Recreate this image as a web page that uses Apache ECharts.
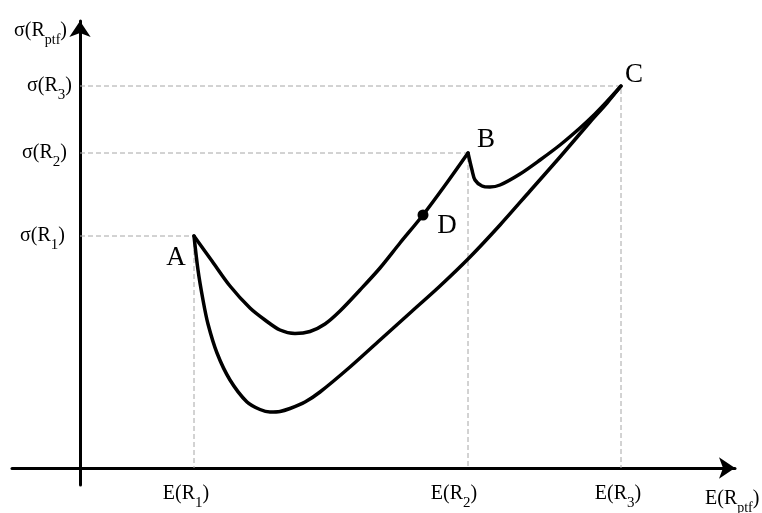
<!DOCTYPE html>
<html>
<head>
<meta charset="utf-8">
<script src="https://cdn.jsdelivr.net/npm/echarts@6.0.0/dist/echarts.min.js"></script>
<style>
  html, body { margin: 0; padding: 0; background: #fff; }
  #chart { width: 762px; height: 513px; }
</style>
</head>
<body>
<div id="chart"></div>
<script>
// Expected return E(R) on the horizontal axis, risk sigma(R) on the vertical axis.
const xTickValues = [11.4, 38.8, 54.1];
const xTickLabels = ['E(R_1)', 'E(R_2)', 'E(R_3)'];
const yTickValues = [23.2, 31.5, 38.2];
const yTickLabels = ['σ(R_1)', 'σ(R_2)', 'σ(R_3)'];
const xAxisTitle = 'E(R_ptf)';
const yAxisTitle = 'σ(R_ptf)';

// Assets A, B, C and the portfolio D
const pointNames = ['A', 'B', 'C', 'D'];
const pointX = [11.4, 38.8, 54.1, 34.3];
const pointY = [23.2, 31.5, 38.2, 25.3];

// Combinations of A and B
const curveAB = [
  [11.4, 23.2], [13.2, 20.7], [15.0, 18.2], [17.0, 16.0], [18.5, 14.8],
  [20.0, 13.8], [21.5, 13.45], [23.0, 13.65], [24.5, 14.4], [26.0, 15.7],
  [28.0, 17.8], [30.0, 20.0], [32.0, 22.5], [34.3, 25.3], [36.6, 28.4],
  [38.8, 31.5]
];
// Combinations of B and C
const curveBC = [
  [38.8, 31.5], [39.2, 29.8], [39.5, 28.8], [40.2, 28.2], [41.0, 28.1],
  [42.0, 28.3], [44.0, 29.4], [46.0, 30.8], [48.0, 32.3], [50.0, 34.0],
  [51.5, 35.4], [52.7, 36.65], [54.1, 38.2]
];
// Combinations of A and C
const curveAC = [
  [11.4, 23.2], [11.8, 19.8], [12.3, 16.8], [12.8, 14.4], [13.7, 11.5],
  [15.0, 8.8], [16.7, 6.6], [18.0, 5.85], [19.0, 5.6], [20.0, 5.65],
  [21.0, 5.95], [22.5, 6.6], [24.0, 7.6], [27.0, 10.1], [30.0, 12.8],
  [33.0, 15.5], [36.0, 18.2], [39.0, 21.1], [42.0, 24.3], [45.0, 27.7],
  [48.0, 31.1], [51.0, 34.6], [52.7, 36.5], [54.1, 38.2]
];

const SERIF = '"Liberation Serif", "Times New Roman", serif';
// Horizontal nudges (px) of each tick label relative to its tick
const xLabelNudge = [-8, -14, -3];
const yLabelNudge = [-7, -5, 0];

// Turn 'E(R_1)' into rich text with a lowered subscript
function subText(str, subStyle) {
  const m = str.match(/^(.*)_([^)]*)(.*)$/);
  if (!m) return '{m|' + str + '}';
  return '{m|' + m[1] + '}{' + subStyle + '|' + m[2] + '}{m|' + m[3] + '}';
}
function gap(w) {
  return w > 0 ? '{g' + w + '| }' : '';
}
const richStyles = {
  m: { fontFamily: SERIF, fontSize: 20, lineHeight: 33, verticalAlign: 'middle', color: '#000' },
  s: { fontFamily: SERIF, fontSize: 15, lineHeight: 17, verticalAlign: 'bottom', color: '#000' },
  p: { fontFamily: SERIF, fontSize: 14, lineHeight: 25, verticalAlign: 'bottom', color: '#000' },
  q: { fontFamily: SERIF, fontSize: 14, lineHeight: 6, verticalAlign: 'bottom', color: '#000' }
};
for (let w = 1; w <= 30; w++) richStyles['g' + w] = { width: w, fontSize: 1, lineHeight: 1 };

function xLabel(v) {
  const i = xTickValues.findIndex(t => Math.abs(t - v) < 1e-6);
  if (i < 0) return '';
  const n = Math.round(xLabelNudge[i] * 2);
  // centred label: a spacer on one side moves the text by half its width
  return (n > 0 ? gap(n) : '') + subText(xTickLabels[i], 's') + (n < 0 ? gap(-n) : '');
}
function yLabel(v) {
  const i = yTickValues.findIndex(t => Math.abs(t - v) < 1e-6);
  if (i < 0) return '';
  // right-aligned label: a trailing spacer moves the text left
  return subText(yTickLabels[i], 's') + gap(-yLabelNudge[i]);
}

// Guide lines from each asset to both axes
const guideSeries = pointNames.slice(0, 3).map((n, i) => ({
  type: 'line',
  name: 'guide ' + n,
  data: [[0, pointY[i]], [pointX[i], pointY[i]], [pointX[i], 0]],
  symbol: 'none',
  silent: true,
  z: 1,
  lineStyle: { color: '#a6a6a6', width: 1, type: [5, 3] }
}));

const curveStyle = { color: '#000', width: 3.5, cap: 'round', join: 'round' };
function curve(name, data) {
  return {
    type: 'line', name, data, symbol: 'none', smooth: 0.3, z: 3,
    lineStyle: curveStyle
  };
}

const labelOffsets = { A: [-18, 22], B: [18, -13], C: [13, -11], D: [24, 11] };

const chart = echarts.init(document.getElementById('chart'), null, { renderer: 'canvas' });
chart.setOption({
  backgroundColor: '#fff',
  animation: false,
  grid: { left: 12, right: 27, top: 21, bottom: 28, containLabel: false, outerBoundsMode: 'none' },
  xAxis: {
    type: 'value', min: -6.8, max: 65.5,
    splitLine: { show: false },
    axisTick: { show: false },
    axisLine: { onZero: true, lineStyle: { color: '#000', width: 3 }, symbol: ['none', 'arrow'], symbolSize: [16, 16] },
    axisLabel: {
      customValues: xTickValues,
      margin: -7.5,
      formatter: xLabel,
      rich: richStyles
    },
    name: subText(xAxisTitle, 'q'),
    nameLocation: 'end',
    nameGap: -30,
    nameMoveOverlap: false,
    nameTextStyle: { align: 'left', verticalAlign: 'top', padding: [14, 0, 0, 0], rich: richStyles }
  },
  yAxis: {
    type: 'value', min: -1.7, max: 44.7,
    splitLine: { show: false },
    axisTick: { show: false },
    axisLine: { onZero: true, lineStyle: { color: '#000', width: 3 }, symbol: ['none', 'arrow'], symbolSize: [16, 16] },
    axisLabel: {
      customValues: yTickValues,
      margin: -60,
      formatter: yLabel,
      rich: richStyles
    },
    name: subText(yAxisTitle, 'p'),
    nameLocation: 'end',
    nameGap: -26,
    nameMoveOverlap: false,
    nameTextStyle: { align: 'right', verticalAlign: 'bottom', padding: [0, 13, 0, 0], rich: richStyles }
  },
  series: [
    ...guideSeries,
    curve('A-B', curveAB),
    curve('B-C', curveBC),
    curve('A-C', curveAC),
    {
      type: 'scatter',
      name: 'points',
      z: 5,
      data: pointNames.map((n, i) => ({
        name: n,
        value: [pointX[i], pointY[i]],
        symbolSize: n === 'D' ? 11 : 1,
        itemStyle: { color: n === 'D' ? '#000' : 'rgba(0,0,0,0)', opacity: 1 },
        label: { offset: labelOffsets[n] }
      })),
      label: {
        show: true,
        position: 'inside',
        formatter: p => p.name,
        fontFamily: SERIF,
        fontSize: 27,
        color: '#000'
      }
    }
  ]
});
</script>
</body>
</html>
